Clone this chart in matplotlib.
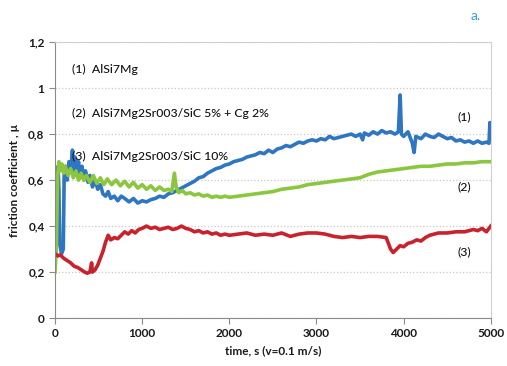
import matplotlib.pyplot as plt
import numpy as np

plt.rcParams['font.family'] = ['Lato', 'DejaVu Sans']

# (1) AlSi7Mg
t_1 = [0, 20, 35, 45, 55, 75, 95, 105, 120, 140, 160, 180, 200, 215, 230, 250, 270, 290, 310, 330,
       350, 380, 400, 430, 460, 490, 520, 550, 580, 610, 640, 680, 720, 760, 800, 850, 900, 950, 1000,
       1050, 1100, 1150, 1200, 1250, 1300, 1350, 1400, 1450, 1500, 1550, 1600, 1650, 1700, 1750, 1800,
       1850, 1900, 1950, 2000, 2050, 2100, 2150, 2200, 2250, 2300, 2350, 2400, 2450, 2500, 2550, 2600,
       2650, 2700, 2750, 2800, 2850, 2900, 2950, 3000, 3050, 3100, 3150, 3200, 3250, 3300, 3350, 3400,
       3450, 3500, 3530, 3550, 3600, 3650, 3700, 3750, 3800, 3850, 3900, 3940, 3960, 3975, 4000, 4050,
       4100, 4120, 4140, 4200, 4250, 4300, 4350, 4400, 4450, 4500, 4550, 4600, 4650, 4700, 4750, 4800,
       4850, 4900, 4950, 4980, 4990, 5000]
mu_1 = [0.25, 0.40, 0.66, 0.55, 0.32, 0.28, 0.30, 0.62, 0.66, 0.60, 0.68, 0.64, 0.73, 0.62, 0.70, 0.63,
        0.68, 0.61, 0.66, 0.60, 0.64, 0.59, 0.62, 0.57, 0.60, 0.56, 0.58, 0.54, 0.53, 0.55, 0.52, 0.53,
        0.51, 0.53, 0.52, 0.505, 0.52, 0.50, 0.51, 0.505, 0.515, 0.52, 0.53, 0.525, 0.54, 0.545, 0.555,
        0.565, 0.575, 0.585, 0.595, 0.61, 0.615, 0.63, 0.64, 0.65, 0.655, 0.665, 0.67, 0.68, 0.685, 0.69,
        0.70, 0.705, 0.71, 0.72, 0.715, 0.73, 0.72, 0.735, 0.74, 0.75, 0.745, 0.755, 0.765, 0.76, 0.77,
        0.775, 0.77, 0.78, 0.775, 0.79, 0.78, 0.785, 0.79, 0.795, 0.80, 0.79, 0.80, 0.775, 0.805, 0.795,
        0.81, 0.80, 0.815, 0.805, 0.81, 0.80, 0.81, 0.97, 0.80, 0.79, 0.81, 0.76, 0.72, 0.79, 0.78, 0.80,
        0.79, 0.785, 0.80, 0.79, 0.78, 0.785, 0.77, 0.775, 0.765, 0.77, 0.76, 0.77, 0.76, 0.765, 0.76,
        0.85, 0.78]

# (2) AlSi7Mg2Sr003/SiC 5% + Cg 2%
t_2 = [0, 15, 30, 45, 60, 80, 100, 120, 150, 180, 210, 240, 270, 300, 330, 360, 400, 440, 480, 520,
       560, 600, 650, 700, 750, 800, 850, 900, 950, 1000, 1050, 1100, 1150, 1200, 1250, 1300, 1340, 1370,
       1390, 1420, 1460, 1500, 1550, 1600, 1650, 1700, 1750, 1800, 1850, 1900, 1950, 2000, 2100, 2200,
       2300, 2400, 2500, 2600, 2700, 2800, 2900, 3000, 3100, 3200, 3300, 3400, 3500, 3600, 3700, 3800,
       3900, 4000, 4100, 4200, 4300, 4400, 4500, 4600, 4700, 4800, 4900, 5000]
mu_2 = [0.20, 0.30, 0.62, 0.68, 0.64, 0.67, 0.63, 0.66, 0.62, 0.65, 0.61, 0.64, 0.60, 0.63, 0.60, 0.62,
        0.59, 0.62, 0.585, 0.61, 0.58, 0.605, 0.58, 0.60, 0.575, 0.595, 0.57, 0.59, 0.565, 0.58, 0.56,
        0.575, 0.555, 0.57, 0.555, 0.56, 0.55, 0.63, 0.57, 0.545, 0.555, 0.54, 0.545, 0.535, 0.54, 0.53,
        0.535, 0.525, 0.53, 0.525, 0.53, 0.525, 0.53, 0.535, 0.54, 0.545, 0.55, 0.56, 0.565, 0.57, 0.58,
        0.585, 0.59, 0.595, 0.60, 0.605, 0.61, 0.625, 0.635, 0.64, 0.645, 0.65, 0.655, 0.66, 0.66, 0.665,
        0.67, 0.67, 0.675, 0.675, 0.68, 0.68]

# (3) AlSi7Mg2Sr003/SiC 10%
t_3 = [0, 30, 60, 100, 140, 180, 220, 260, 300, 340, 370, 400, 420, 430, 460, 490, 520, 550, 580, 610,
       640, 680, 720, 760, 800, 840, 880, 920, 960, 1000, 1050, 1100, 1150, 1200, 1250, 1300, 1350, 1400,
       1450, 1500, 1550, 1600, 1650, 1700, 1750, 1800, 1850, 1900, 1950, 2000, 2100, 2200, 2300, 2400,
       2500, 2600, 2700, 2800, 2900, 3000, 3100, 3200, 3300, 3400, 3500, 3600, 3700, 3800, 3850, 3880,
       3920, 3960, 4000, 4050, 4100, 4150, 4200, 4250, 4300, 4350, 4400, 4500, 4600, 4700, 4800, 4850,
       4900, 4950, 5000]
mu_3 = [0.28, 0.27, 0.275, 0.26, 0.25, 0.24, 0.225, 0.22, 0.21, 0.20, 0.195, 0.20, 0.24, 0.20, 0.21,
        0.23, 0.26, 0.29, 0.33, 0.36, 0.34, 0.35, 0.345, 0.36, 0.375, 0.365, 0.38, 0.37, 0.385, 0.39,
        0.40, 0.39, 0.395, 0.385, 0.39, 0.395, 0.385, 0.39, 0.40, 0.39, 0.385, 0.375, 0.38, 0.37, 0.375,
        0.365, 0.37, 0.36, 0.365, 0.36, 0.365, 0.37, 0.36, 0.365, 0.36, 0.37, 0.355, 0.365, 0.37, 0.37,
        0.365, 0.355, 0.35, 0.355, 0.35, 0.355, 0.355, 0.35, 0.30, 0.285, 0.30, 0.315, 0.31, 0.325, 0.33,
        0.34, 0.335, 0.35, 0.36, 0.365, 0.37, 0.37, 0.375, 0.375, 0.385, 0.38, 0.39, 0.375, 0.40]

legend_text = ["(1)  AlSi7Mg", "(2)  AlSi7Mg2Sr003/SiC 5% + Cg 2%", "(3)  AlSi7Mg2Sr003/SiC 10%"]
colors = ['#2e75c2', '#8cc63f', '#c8232c']

fig = plt.figure(figsize=(5.07, 3.66), dpi=100)
ax = fig.add_axes([0.1085, 0.131, 0.8595, 0.754])

ax.plot(t_1, mu_1, color=colors[0], lw=2.6)
ax.plot(t_2, mu_2, color=colors[1], lw=2.6)
ax.plot(t_3, mu_3, color=colors[2], lw=2.6)

ax.set_xlim(0, 5000)
ax.set_ylim(0, 1.2)
ax.set_xticks(np.arange(0, 5001, 1000))
ax.set_yticks(np.arange(0, 1.21, 0.2))
ax.set_yticklabels(['0', '0,2', '0,4', '0,6', '0,8', '1', '1,2'])
ax.grid(axis='y', color='#c8c8c8', linestyle=':', lw=0.9)
for sp in ['top', 'right']:
    ax.spines[sp].set_color('#d0d0d0')
for sp in ['left', 'bottom']:
    ax.spines[sp].set_color('#8a8a8a')
ax.tick_params(colors='#8a8a8a', labelcolor='#1a1a1a', labelsize=8.5, length=4, width=0.8)
for lab in ax.get_xticklabels() + ax.get_yticklabels():
    lab.set_fontweight('bold')

ax.set_xlabel('time, s (v=0.1 m/s)', fontsize=8.5, fontweight='bold', color='#1a1a1a', labelpad=4)
ax.set_ylabel('friction coefficient , µ', fontsize=8.5, fontweight='bold', color='#1a1a1a', labelpad=6)

for i, txt in enumerate(legend_text):
    ax.text(0.04, 0.9 - i * 0.157, txt, transform=ax.transAxes, fontsize=8.8, color='#111111',
            fontweight='medium', va='center')
ax.text(4700, 0.875, '(1)', fontsize=8.8, color='#111111', fontweight='medium', va='center', ha='center')
ax.text(4700, 0.57, '(2)', fontsize=8.8, color='#111111', fontweight='medium', va='center', ha='center')
ax.text(4700, 0.29, '(3)', fontsize=8.8, color='#111111', fontweight='medium', va='center', ha='center')

fig.text(0.928, 0.955, 'a.', fontsize=10, color='#3aa0dc', ha='left', va='center')

fig.savefig('out.png', dpi=100)
